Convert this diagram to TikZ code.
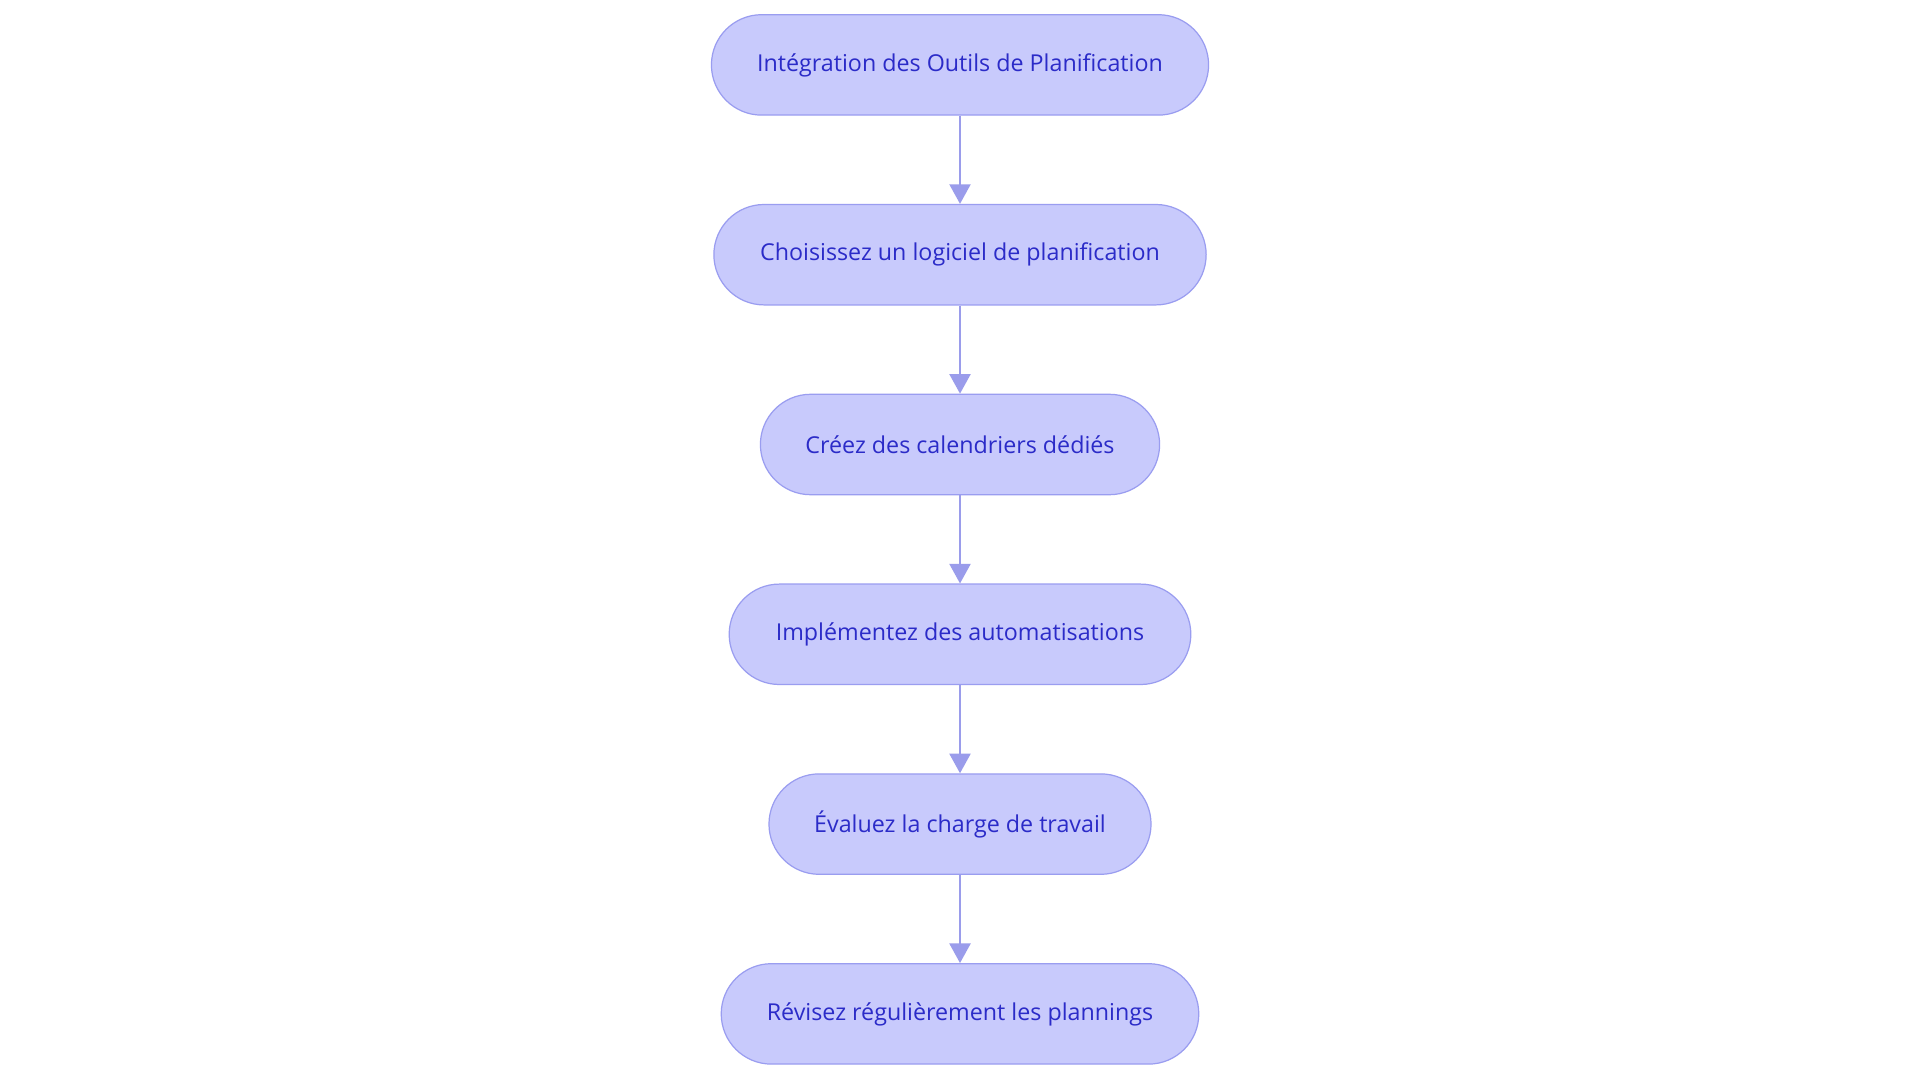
\documentclass[tikz,border=0pt]{standalone}
\usepackage{fontspec}
\setmainfont{Open Sans}
\usetikzlibrary{arrows.meta}
\definecolor{nfill}{HTML}{C8CAFC}
\definecolor{nline}{HTML}{9A9DF0}
\definecolor{ntext}{HTML}{2B2BC8}
\definecolor{aline}{HTML}{9A9CEB}
\begin{document}
\begin{tikzpicture}[x=1pt,y=1pt,
  box/.style={draw=nline,fill=nfill,line width=1pt,rounded corners=41pt,minimum height=82pt,text=ntext,font=\fontsize{19}{23}\selectfont,inner sep=0pt},
  arr/.style={draw=aline,line width=2.2pt,-{Triangle[length=16pt,width=17pt]}}]
\useasboundingbox (0,0) rectangle (1568,-884.5);
\fill[white] (0,0) rectangle (1568,-884.5);
\node[box,minimum width=406pt] (a) at (784,-53) {Intégration des Outils de Planification};
\node[box,minimum width=402pt] (b) at (784,-208) {Choisissez un logiciel de planification};
\node[box,minimum width=326pt] (c) at (784,-363) {Créez des calendriers dédiés};
\node[box,minimum width=377pt] (d) at (784,-518) {Implémentez des automatisations};
\node[box,minimum width=312pt] (e) at (784,-673) {Évaluez la charge de travail};
\node[box,minimum width=390pt] (f) at (784,-828) {Révisez régulièrement les plannings};
\draw[arr] (a) -- (b);
\draw[arr] (b) -- (c);
\draw[arr] (c) -- (d);
\draw[arr] (d) -- (e);
\draw[arr] (e) -- (f);
\end{tikzpicture}
\end{document}
